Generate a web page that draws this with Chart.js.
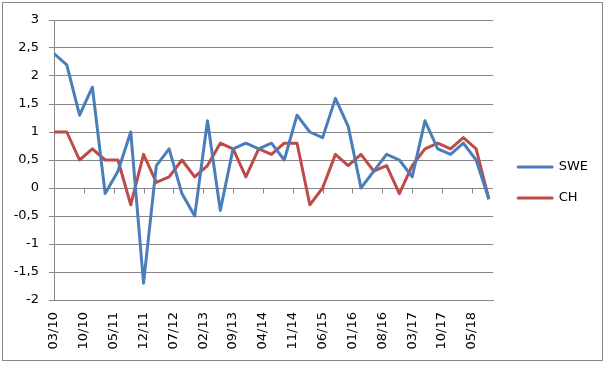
<!DOCTYPE html>
<html>
<head>
<meta charset="utf-8">
<title>SWE / CH</title>
<script src="https://cdn.jsdelivr.net/npm/chart.js@4.4.1/dist/chart.umd.min.js"></script>
<style>
  html, body { margin: 0; padding: 0; background: #fff; }
  canvas { display: block; }
</style>
</head>
<body>
<canvas id="chart" width="605" height="365"></canvas>
<script>
// quarterly observations, mm/yy
const quarters = [
  '03/10', '06/10', '09/10', '12/10', '03/11', '06/11', '09/11', '12/11',
  '03/12', '06/12', '09/12', '12/12', '03/13', '06/13', '09/13', '12/13',
  '03/14', '06/14', '09/14', '12/14', '03/15', '06/15', '09/15', '12/15',
  '03/16', '06/16', '09/16', '12/16', '03/17', '06/17', '09/17', '12/17',
  '03/18', '06/18', '09/18'
];
const swe = [
  2.4, 2.2, 1.3, 1.8, -0.1, 0.3, 1.0, -1.7,
  0.4, 0.7, -0.1, -0.5, 1.2, -0.4, 0.7, 0.8,
  0.7, 0.8, 0.5, 1.3, 1.0, 0.9, 1.6, 1.1,
  0.0, 0.3, 0.6, 0.5, 0.2, 1.2, 0.7, 0.6,
  0.8, 0.5, -0.2
];
const ch = [
  1.0, 1.0, 0.5, 0.7, 0.5, 0.5, -0.3, 0.6,
  0.1, 0.2, 0.5, 0.2, 0.4, 0.8, 0.7, 0.2,
  0.7, 0.6, 0.8, 0.8, -0.3, 0.0, 0.6, 0.4,
  0.6, 0.3, 0.4, -0.1, 0.4, 0.7, 0.8, 0.7,
  0.9, 0.7, -0.2
];
// date axis labels (every 7 months) and the axis end
const tickLabels = [
  '03/10', '10/10', '05/11', '12/11', '07/12', '02/13', '09/13', '04/14',
  '11/14', '06/15', '01/16', '08/16', '03/17', '10/17', '05/18'
];
const axisEnd = '10/18';
const yMin = -2, yMax = 3, yStep = 0.5;

const gridColor = '#878787';
const blue = '#4A7EBB';
const red = '#BE4B48';

function months(label) {
  const [m, y] = label.split('/').map(Number);
  return y * 12 + m;
}
const start = months(quarters[0]);
const monthIndex = label => months(label) - start;

function toPoints(values) {
  return quarters.map((q, i) => ({ x: monthIndex(q), y: values[i] }));
}

// little tick marks hanging off the zero line, like the Excel axis
const zeroTicks = {
  id: 'zeroTicks',
  beforeDatasetsDraw(chart) {
    const { ctx, scales: { x, y } } = chart;
    const y0 = Math.round(y.getPixelForValue(0)) + 0.5;
    ctx.save();
    ctx.strokeStyle = gridColor;
    ctx.lineWidth = 1;
    tickLabels.forEach(t => {
      const px = Math.round(x.getPixelForValue(monthIndex(t))) + 0.5;
      ctx.beginPath();
      ctx.moveTo(px, y0);
      ctx.lineTo(px, y0 + 5);
      ctx.stroke();
    });
    ctx.restore();
  }
};

const frame = {
  id: 'frame',
  beforeDraw(chart) {
    const ctx = chart.ctx;
    ctx.save();
    ctx.fillStyle = '#fff';
    ctx.fillRect(0, 0, chart.width, chart.height);
    ctx.restore();
  },
  afterDraw(chart) {
    const ctx = chart.ctx;
    ctx.save();
    ctx.strokeStyle = gridColor;
    ctx.lineWidth = 1;
    ctx.strokeRect(2.5, 2.5, 600, 358);
    ctx.restore();
  }
};

Chart.defaults.font.family = "'DejaVu Sans', sans-serif";
Chart.defaults.font.size = 13;
Chart.defaults.color = '#000';

new Chart(document.getElementById('chart'), {
  type: 'line',
  data: {
    datasets: [
      { label: 'SWE', data: toPoints(swe), borderColor: blue, backgroundColor: blue,
        xAxisID: 'x', yAxisID: 'y' },
      { label: 'CH', data: toPoints(ch), borderColor: red, backgroundColor: red,
        xAxisID: 'x', yAxisID: 'y' }
    ]
  },
  options: {
    responsive: false,
    animation: false,
    devicePixelRatio: 1,
    layout: { padding: { top: 0, right: 7, bottom: 0, left: 0 } },
    elements: {
      line: { borderWidth: 3, tension: 0, borderJoinStyle: 'round' },
      point: { radius: 0, hoverRadius: 0 }
    },
    plugins: {
      tooltip: { enabled: false },
      legend: {
        position: 'right',
        align: 'center',
        labels: { boxWidth: 34, boxHeight: 0, padding: 18, color: '#000' }
      }
    },
    scales: {
      x: {
        type: 'linear',
        position: 'bottom',
        min: 0,
        max: monthIndex(axisEnd),
        afterBuildTicks: s => { s.ticks = tickLabels.map(t => ({ value: monthIndex(t) })); },
        afterFit: s => { s.height = 65; },
        grid: { display: false, drawTicks: false },
        border: { display: true, color: gridColor },
        ticks: {
          autoSkip: false,
          minRotation: 90,
          maxRotation: 90,
          padding: 12,
          callback: v => tickLabels.find(t => monthIndex(t) === v) || ''
        }
      },
      y: {
        type: 'linear',
        position: 'left',
        min: yMin,
        max: yMax,
        afterFit: s => { s.width = 54; },
        grid: { color: gridColor, tickLength: 5 },
        border: { color: gridColor },
        ticks: {
          stepSize: yStep,
          padding: 10,
          callback: v => String(v).replace('.', ',')
        }
      },
      gapTop: {
        type: 'linear', axis: 'x', position: 'top', display: true,
        afterFit: s => { s.height = 20; },
        grid: { display: false }, border: { display: false }, ticks: { display: false }
      },
      gapRight: {
        type: 'linear', axis: 'y', position: 'right', display: true,
        afterFit: s => { s.width = 7; },
        grid: { display: false }, border: { display: false }, ticks: { display: false }
      }
    }
  },
  plugins: [frame, zeroTicks]
});
</script>
</body>
</html>
